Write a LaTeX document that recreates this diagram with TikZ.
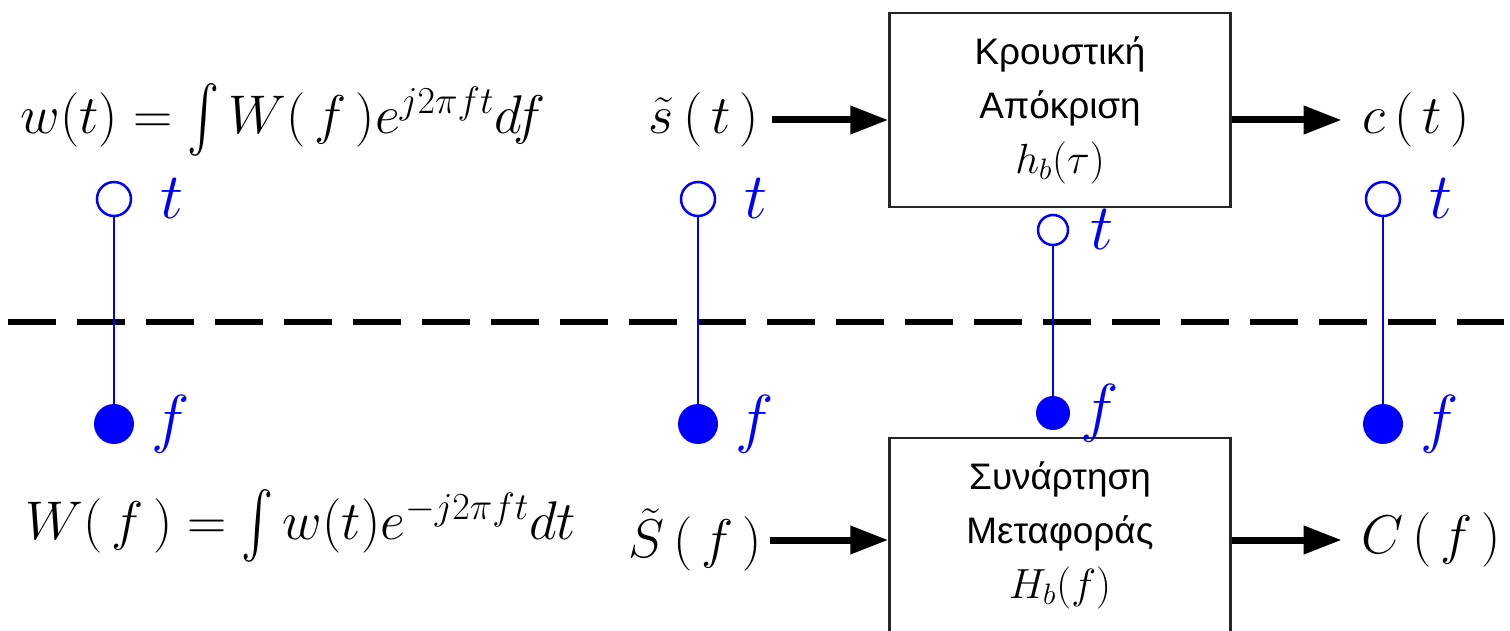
\documentclass[tikz,border=0pt]{standalone}
\usepackage{fix-cm}
\usepackage{exscale}
\usepackage{graphicx}
\usepackage{fontspec}
\usepackage{tikz}
\usetikzlibrary{arrows.meta, positioning}
\newfontfamily\greekfont{Liberation Sans}
\newcommand{\tallint}{\mathop{\vcenter{\hbox{\scalebox{1.1}[1.5]{$\int$}}}}\nolimits}

\begin{document}
\begin{tikzpicture}[x=0.02cm, y=-0.02cm,
    formula/.style={inner sep=0pt, font=\fontsize{31}{36}\selectfont},
    sigtext/.style={inner sep=0pt, font=\fontsize{31}{36}\selectfont},
    system/.style={draw=black!85, line width=0.5mm, minimum width=6.82cm,
      minimum height=3.88cm, align=center, font=\greekfont\fontsize{21}{31}\selectfont},
    flow/.style={-{Triangle[length=7.6mm, width=5.4mm]}, line width=1.4mm},
    tdot/.style={circle, draw=blue, line width=0.5mm, fill=white,
      minimum size=6.8mm, inner sep=0pt},
    fdot/.style={circle, fill=blue, minimum size=8mm, inner sep=0pt},
    stem/.style={draw=blue, line width=0.5mm},
    varlab/.style={text=blue, inner sep=0pt, font=\fontsize{37}{44}\selectfont},
    divider/.style={line width=1.2mm, dash pattern=on 0.96cm off 0.42cm}
]
\useasboundingbox (0,0) rectangle (1510,631);
\draw[divider] (8,322) -- (1504,322);
\node[formula] (wt) at (283,120) {$w(t)=\tallint W(\,f\,)e^{j2\pi ft}df$};
\node[formula] (Wf) at (301,526) {$W(\,f\,)=\tallint w(t)e^{-j2\pi ft}dt$};
\node[system] (hbox) at (1060,110) {Κρουστική\\Απόκριση\\{\rmfamily\fontsize{24}{31}\selectfont$h_b(\tau)$}};
\node[system] (Hbox) at (1060,535) {Συνάρτηση\\Μεταφοράς\\{\rmfamily\fontsize{24}{31}\selectfont$H_b(f)$}};
\node[sigtext] (st) at (704,120) {$\tilde{s}\,(\,t\,)$};
\node[sigtext] (ct) at (1416,120) {$c\,(\,t\,)$};
\node[sigtext] (Sf) at (695,540) {$\tilde{S}\,(\,f\,)$};
\node[sigtext] (Cf) at (1431,540) {$C\,(\,f\,)$};
\draw[flow] ([xshift=2.5mm]st.east) -- (hbox.west |- st.east);
\draw[flow] (hbox.east |- ct.west) -- ([xshift=-4mm]ct.west);
\draw[flow] ([xshift=1.5mm]Sf.east) -- (Hbox.west |- Sf.east);
\draw[flow] (Hbox.east |- Cf.west) -- ([xshift=-3.8mm]Cf.west);
\node[tdot] (t1) at (114,199) {};
\node[fdot] (f1) at (114,424) {};
\draw[stem] (t1) -- (f1);
\node[varlab, right=5.6mm of t1] (tl1) {$t$};
\node[varlab, right=3.4mm of f1] (fl1) {$f$};
\node[tdot] (t2) at (698,199) {};
\node[fdot] (f2) at (698,424) {};
\draw[stem] (t2) -- (f2);
\node[varlab, right=5.6mm of t2] (tl2) {$t$};
\node[varlab, right=3.4mm of f2] (fl2) {$f$};
\node[tdot, minimum size=6mm] (t3) at (1053,230) {};
\node[fdot, minimum size=6.8mm] (f3) at (1053,413) {};
\draw[stem] (t3) -- (f3);
\node[varlab, right=4.2mm of t3] (tl3) {$t$};
\node[varlab, right=2mm of f3] (fl3) {$f$};
\node[tdot] (t4) at (1383,199) {};
\node[fdot] (f4) at (1383,424) {};
\draw[stem] (t4) -- (f4);
\node[varlab, right=5.6mm of t4] (tl4) {$t$};
\node[varlab, right=3.4mm of f4] (fl4) {$f$};
\end{tikzpicture}
\end{document}
